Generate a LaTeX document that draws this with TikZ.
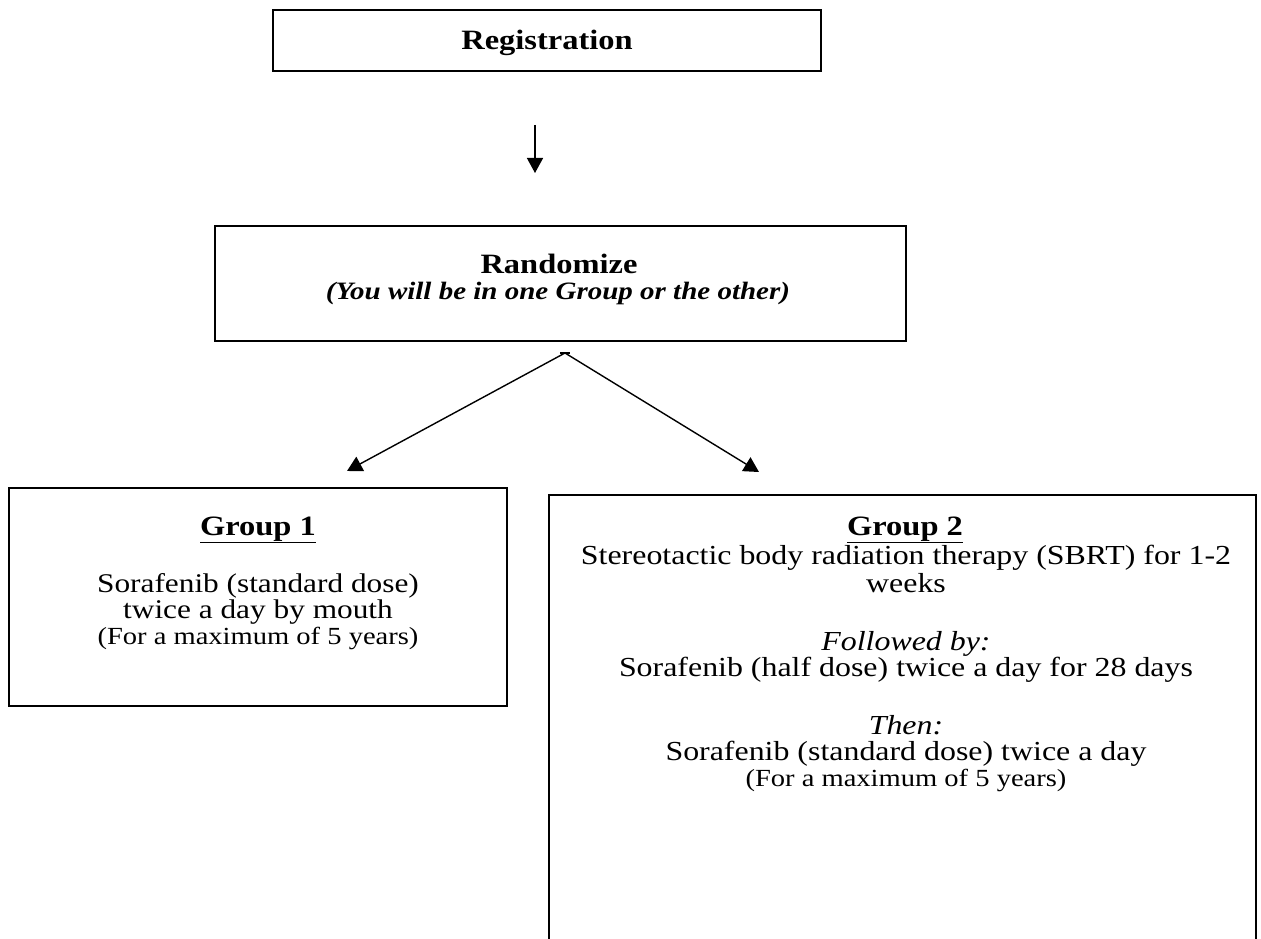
\documentclass[tikz,border=0pt]{standalone}
\usepackage{fontspec}
\setmainfont{Liberation Serif}[FakeStretch=1.16]
\usetikzlibrary{arrows.meta}
\tikzset{
  box/.style={draw, line width=1.8pt, inner sep=0pt},
  ln/.style={inner sep=0pt, anchor=base, font=\fontsize{27}{28}\selectfont},
  lnb/.style={inner sep=0pt, anchor=base, font=\fontsize{27.5}{28}\selectfont},
  hd/.style={inner sep=0pt, anchor=base, font=\fontsize{28}{28}\selectfont\bfseries},
  sm/.style={inner sep=0pt, anchor=base, font=\fontsize{24.6}{26}\selectfont},
  it/.style={inner sep=0pt, anchor=base, font=\fontsize{27.5}{28}\selectfont\itshape},
  arr/.style={line width=1.4pt, -{Triangle[length=15pt, width=16pt]}}
}
\begin{document}
\begin{tikzpicture}[x=1pt, y=-1pt]
\useasboundingbox (0,0) rectangle (1261,939);
% Registration
\node[box, minimum width=548pt, minimum height=61pt] (reg) at (547,40.5) {};
\node[hd] (regt) at (547,50) {Registration};
% Randomize
\node[box, minimum width=691pt, minimum height=115pt] (rand) at (560.5,283.5) {};
\node[hd] (randt) at (559,273) {Randomize};
\node[hd, font=\fontsize{25}{28}\selectfont\bfseries\itshape] (randi) at (558,299) {(You will be in one Group or the other)};
% arrow down
\coordinate (a1) at (535,125);
\coordinate (a2) at (535,173);
\draw[arr] (a1) -- (a2);
% split
\coordinate (sp) at (565,353);
\coordinate (lt) at (347,471);
\coordinate (rt) at (759,472);
\draw[line width=1.2pt] (560,353) -- (570,353);
\draw[arr] (sp) -- (lt);
\draw[arr] (sp) -- (rt);
% Group 1
\node[box, minimum width=498pt, minimum height=218pt] (g1) at (258,597) {};
\node[hd] (g1t) at (258,535) {\underline{Group 1}};
\node[ln] (g1a) at (258,592) {Sorafenib (standard dose)};
\node[ln] (g1b) at (258,618) {twice a day by mouth};
\node[sm] (g1c) at (258,644) {(For a maximum of 5 years)};
% Group 2
\coordinate (g2bl) at (549,945);
\coordinate (g2tl) at (549,495);
\coordinate (g2tr) at (1256,495);
\coordinate (g2br) at (1256,945);
\draw[line width=1.8pt] (g2bl) -- (g2tl) -- (g2tr) -- (g2br);
\node[hd] (g2t) at (905,535) {\underline{Group 2}};
\node[lnb] (g2a) at (906,564) {Stereotactic body radiation therapy (SBRT) for 1-2};
\node[lnb] (g2b) at (906,592) {weeks};
\node[it] (g2c) at (906,650) {Followed by:};
\node[lnb] (g2d) at (906,676) {Sorafenib (half dose) twice a day for 28 days};
\node[it] (g2e) at (906,734) {Then:};
\node[lnb] (g2f) at (906,760) {Sorafenib (standard dose) twice a day};
\node[sm] (g2g) at (906,786) {(For a maximum of 5 years)};
\end{tikzpicture}
\end{document}
